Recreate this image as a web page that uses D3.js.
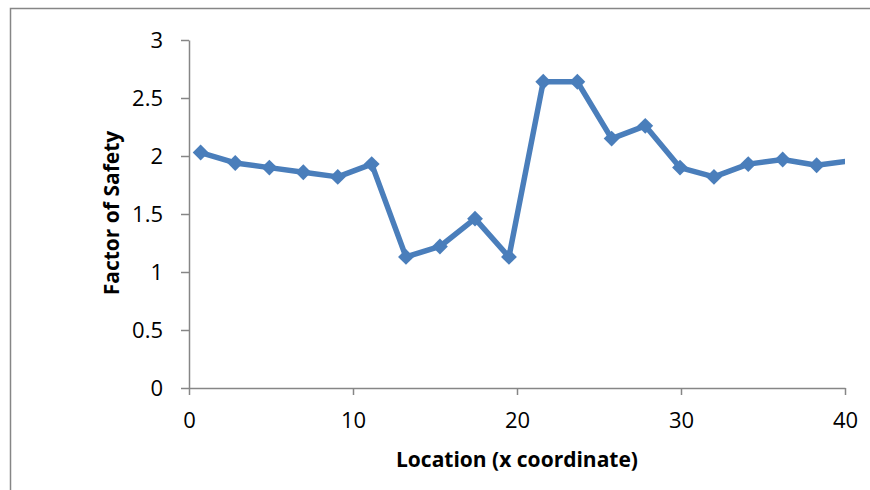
<!DOCTYPE html>
<html>
<head>
<meta charset="utf-8">
<script src="https://cdn.jsdelivr.net/npm/d3@7"></script>
<style>
  html, body { margin: 0; padding: 0; background: #fff; }
  svg { display: block; }
  text { font-family: "Open Sans", "Liberation Sans", sans-serif; fill: #000; }
</style>
</head>
<body>
<svg id="chart" width="870" height="490"></svg>
<script>
// Factor of safety along the slope (x coordinate of each slice)
const locations = [0.71, 2.82, 4.90, 6.97, 9.07, 11.14, 13.23, 15.30, 17.44, 19.51,
                   21.60, 23.68, 25.77, 27.82, 29.94, 32.01, 34.10, 36.20, 38.27, 40.35];
const safetyFactors = [2.03, 1.94, 1.90, 1.86, 1.82, 1.93, 1.13, 1.22, 1.46, 1.13,
                       2.64, 2.64, 2.15, 2.26, 1.90, 1.82, 1.93, 1.97, 1.92, 1.96];
const xTicks = [0, 10, 20, 30, 40];
const yTicks = [0, 0.5, 1, 1.5, 2, 2.5, 3];
const xTitle = "Location (x coordinate)";
const yTitle = "Factor of Safety";

const svg = d3.select("#chart");
const plot = { left: 189, right: 845, top: 40, bottom: 388 };
const axisColor = "#868686";
const seriesColor = "#4a7ebb";

// Outer chart frame
svg.append("rect")
  .attr("x", 10.5).attr("y", 8.5)
  .attr("width", 900).attr("height", 520)
  .attr("fill", "none").attr("stroke", axisColor).attr("stroke-width", 1.5);

const x = d3.scaleLinear().domain([0, 40]).range([plot.left, plot.right]);
const y = d3.scaleLinear().domain([0, 3]).range([plot.bottom, plot.top]);

// X axis
const xAxis = svg.append("g")
  .attr("transform", `translate(0,${plot.bottom})`)
  .call(d3.axisBottom(x).tickValues(xTicks).tickFormat(d3.format("d")).tickSizeInner(7).tickSizeOuter(0).tickPadding(17));

// Y axis
const yAxis = svg.append("g")
  .attr("transform", `translate(${plot.left},0)`)
  .call(d3.axisLeft(y).tickValues(yTicks).tickFormat(d => String(d)).tickSizeInner(8).tickSizeOuter(0).tickPadding(18));

[xAxis, yAxis].forEach(g => {
  g.select(".domain").attr("stroke", axisColor).attr("stroke-width", 1.5);
  g.selectAll(".tick line").attr("stroke", axisColor).attr("stroke-width", 1.5);
  g.selectAll(".tick text").attr("font-size", 22).attr("font-family", "Open Sans, sans-serif").attr("fill", "#000");
});

// Clip the series to the plot area
svg.append("clipPath").attr("id", "plot-clip")
  .append("rect")
  .attr("x", plot.left).attr("y", plot.top - 10)
  .attr("width", plot.right - plot.left).attr("height", plot.bottom - plot.top + 10);

const points = locations.map((d, i) => ({ x: d, y: safetyFactors[i] }));
const series = svg.append("g").attr("clip-path", "url(#plot-clip)");

series.append("path")
  .datum(points)
  .attr("fill", "none")
  .attr("stroke", seriesColor)
  .attr("stroke-width", 5.5)
  .attr("stroke-linejoin", "round")
  .attr("d", d3.line().x(d => x(d.x)).y(d => y(d.y)));

series.selectAll("path.marker")
  .data(points)
  .join("path")
  .attr("class", "marker")
  .attr("d", d3.symbol().type(d3.symbolDiamond2).size(160))
  .attr("transform", d => `translate(${x(d.x)},${y(d.y)})`)
  .attr("fill", seriesColor);

// Axis titles
svg.append("text")
  .attr("x", 517).attr("y", 467)
  .attr("text-anchor", "middle")
  .attr("font-size", 21).attr("font-weight", "bold")
  .text(xTitle);

svg.append("text")
  .attr("transform", "translate(119,213) rotate(-90)")
  .attr("text-anchor", "middle")
  .attr("font-size", 21).attr("font-weight", "bold")
  .text(yTitle);
</script>
</body>
</html>
